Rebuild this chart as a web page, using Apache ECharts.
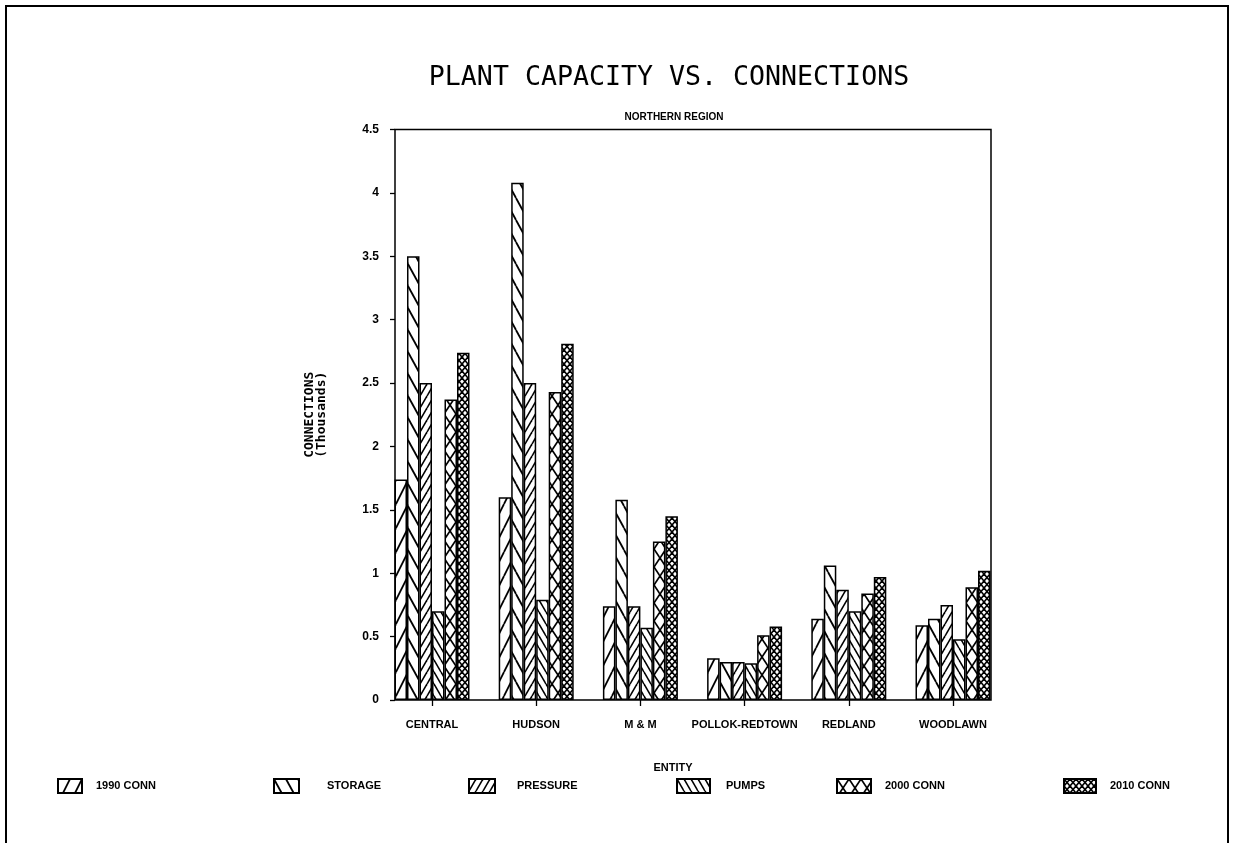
<!DOCTYPE html>
<html>
<head>
<meta charset="utf-8">
<script src="https://cdn.jsdelivr.net/npm/echarts@6/dist/echarts.min.js"></script>
<style>
html,body{margin:0;padding:0;background:#fff;}
#chart{width:1233px;height:843px;}
</style>
</head>
<body>
<div id="chart"></div>
<script>
// ---- data ----
const categories = ['CENTRAL', 'HUDSON', 'M & M', 'POLLOK-REDTOWN', 'REDLAND', 'WOODLAWN'];
const seriesNames = ['1990 CONN', 'STORAGE', 'PRESSURE', 'PUMPS', '2000 CONN', '2010 CONN'];
const conn1990 = [1.74, 1.60, 0.74, 0.33, 0.64, 0.59];
const storage  = [3.50, 4.08, 1.58, 0.30, 1.06, 0.64];
const pressure = [2.50, 2.50, 0.74, 0.30, 0.87, 0.75];
const pumps    = [0.70, 0.79, 0.57, 0.29, 0.70, 0.48];
const conn2000 = [2.37, 2.43, 1.25, 0.51, 0.84, 0.89];
const conn2010 = [2.74, 2.81, 1.45, 0.58, 0.97, 1.02];
const yMin = 0, yMax = 4.5, yStep = 0.5;

// ---- hatch patterns ----
function pattern(w, h, draw, lw) {
  const c = document.createElement('canvas');
  c.width = w; c.height = h;
  const g = c.getContext('2d');
  g.fillStyle = '#fff'; g.fillRect(0, 0, w, h);
  g.strokeStyle = '#000'; g.lineWidth = lw || 1.5; g.lineCap = 'butt';
  draw(g, w, h);
  return { image: c, repeat: 'repeat' };
}
function fwd(g, w, h) { // "/"
  for (const dx of [-w, 0, w]) { g.beginPath(); g.moveTo(dx, h); g.lineTo(dx + w, 0); g.stroke(); }
}
function back(g, w, h) { // "\"
  for (const dx of [-w, 0, w]) { g.beginPath(); g.moveTo(dx, 0); g.lineTo(dx + w, h); g.stroke(); }
}
function cross(g, w, h) { fwd(g, w, h); back(g, w, h); }

const fills = [
  pattern(12, 24, fwd, 1.8),
  pattern(12, 22, back, 1.8),
  pattern(7, 12, fwd, 1.6),
  pattern(7, 12, back, 1.6),
  pattern(12, 18, cross, 1.7),
  pattern(6, 7, cross, 1.6)
];
const seriesData = [conn1990, storage, pressure, pumps, conn2000, conn2010];

const font = '"Liberation Sans Narrow", "Liberation Sans", Arial, sans-serif';

const chart = echarts.init(document.getElementById('chart'), null, { renderer: 'canvas' });

const legendPos = [
  { left: 57,   w: 24, pad: 9 },
  { left: 273,  w: 25, pad: 23 },
  { left: 468,  w: 26, pad: 17 },
  { left: 676,  w: 33, pad: 11 },
  { left: 836,  w: 34, pad: 9 },
  { left: 1063, w: 32, pad: 9 }
];

const option = {
  backgroundColor: '#fff',
  animation: false,
  title: [
    { text: 'PLANT CAPACITY VS. CONNECTIONS', left: 664, top: 60, textAlign: 'center',
      textStyle: { fontFamily: '"DejaVu Sans Mono", monospace', fontSize: 26.6, fontWeight: 'normal', color: '#000' } },
    { text: 'NORTHERN REGION', left: 669, top: 107, textAlign: 'center',
      textStyle: { fontFamily: font, fontSize: 10, fontWeight: 'bold', color: '#000' } },
    { text: 'ENTITY', left: 668, top: 757, textAlign: 'center',
      textStyle: { fontFamily: font, fontSize: 11, fontWeight: 'bold', color: '#000' } }
  ],
  legend: legendPos.map((p, i) => ({
    data: [{ name: seriesNames[i], icon: 'rect' }],
    left: p.left, top: 778, padding: 0,
    itemWidth: p.w, itemHeight: 14,
    selectedMode: false,
    textStyle: { fontFamily: font, fontSize: 11, fontWeight: 'bold', color: '#000', padding: [0, 0, 0, p.pad] }
  })),
  grid: [
    { left: 379.9, width: 625.2, top: 129.5, height: 570.5, containLabel: false },
    { left: 395, width: 596, top: 129.5, height: 570.5, show: true, borderColor: '#000', borderWidth: 1.5, backgroundColor: 'transparent', z: 5 }
  ],
  xAxis: [
    { type: 'category', gridIndex: 0, data: categories,
      axisLine: { show: false },
      axisTick: { show: true, alignWithLabel: true, length: 6, lineStyle: { color: '#000', width: 1.3 } },
      axisLabel: { margin: 19, fontFamily: font, fontSize: 11, fontWeight: 'bold', color: '#000', interval: 0 } },
    { type: 'value', gridIndex: 1, show: false, min: 0, max: 1 }
  ],
  yAxis: [
    { type: 'value', gridIndex: 0, min: yMin, max: yMax, show: false },
    { type: 'value', gridIndex: 1, min: yMin, max: yMax, interval: yStep,
      axisLine: { show: false },
      axisTick: { show: true, length: 5, lineStyle: { color: '#000', width: 1.3 } },
      splitLine: { show: false },
      axisLabel: { margin: 16, fontFamily: font, fontSize: 12, fontWeight: 'bold', color: '#000' },
      name: 'CONNECTIONS\n(Thousands)', nameLocation: 'middle', nameRotate: 90, nameGap: 67,
      nameTextStyle: { fontFamily: '"DejaVu Sans Mono", monospace', fontSize: 13, fontWeight: 'bold', color: '#000', lineHeight: 12 } }
  ],
  series: seriesData.map((d, i) => ({
    name: seriesNames[i],
    type: 'bar',
    xAxisIndex: 0, yAxisIndex: 0,
    data: d,
    barWidth: 12.5,
    barGap: '0%',
    itemStyle: { color: fills[i], borderColor: '#000', borderWidth: 1.5 },
    emphasis: { disabled: true }
  })),
  graphic: [
    { type: 'rect', shape: { x: 6, y: 6, width: 1222, height: 900 }, style: { fill: 'none', stroke: '#000', lineWidth: 2 }, silent: true }
  ]
};
chart.setOption(option);
</script>
</body>
</html>
